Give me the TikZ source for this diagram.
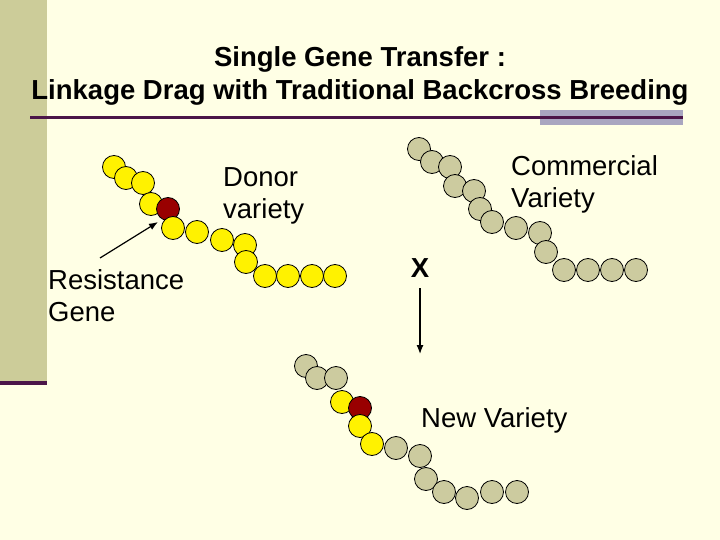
\documentclass[tikz,border=0pt]{standalone}
\usepackage{fontspec}
\usetikzlibrary{arrows.meta}
\setmainfont{Liberation Sans}
\begin{document}
\begin{tikzpicture}[x=1pt,y=-1pt,
  bead/.style={circle,draw=black,line width=0.8pt,minimum size=23pt,inner sep=0pt},
  yb/.style={bead,fill=yellow},
  gb/.style={bead,fill=beadgrey},
  rb/.style={bead,fill=beadred},
  lbl/.style={font=\fontsize{27.5}{32}\selectfont,align=left,anchor=west,inner sep=0pt},
  ttl/.style={font=\bfseries\fontsize{27.5}{33}\selectfont,align=center,inner sep=0pt}]
\definecolor{bg}{HTML}{FFFFE5}
\definecolor{bar}{HTML}{CCCC99}
\definecolor{rule}{HTML}{4B1548}
\definecolor{boxg}{HTML}{A9A6C0}
\definecolor{beadgrey}{HTML}{CCCB9F}
\definecolor{beadred}{HTML}{990000}
\fill[bg] (0,0) rectangle (720,540);
\useasboundingbox (0,0) rectangle (720,540);
\fill[bar] (0,0) rectangle (47,383);
\fill[rule] (0,381) rectangle (47,385);
\fill[boxg] (540,110) rectangle (683,125);
\fill[rule] (30,116) rectangle (683,119);
\node[ttl] (t) at (360,76) {Single Gene Transfer :\\Linkage Drag with Traditional Backcross Breeding};
% donor
\foreach \x/\y [count=\i] in {114/167,126/178,143/183,151/204}{\node[yb] (d\i) at (\x,\y) {};}
\node[rb] (dr) at (168,209) {};
\foreach \x/\y [count=\i from 5] in {173/228,197/232,222/240,245/245,246/262,265/276,288/276,312/276,335/276}{\node[yb] (d\i) at (\x,\y) {};}
% commercial
\foreach \x/\y [count=\i] in {419/149,432/162,450/167,455/186,474/191,480/209,492/222,516/228,540/233,546/252,564/270,588/270,612/270,636/270}{\node[gb] (c\i) at (\x,\y) {};}
% new
\foreach \x/\y [count=\i] in {306/366,317/378,336/378}{\node[gb] (n\i) at (\x,\y) {};}
\node[yb] (ny1) at (342,402) {};
\node[rb] (nr) at (360,408) {};
\node[yb] (ny2) at (360,426) {};
\node[yb] (ny3) at (372,444) {};
\foreach \x/\y [count=\i from 4] in {396/448,420/456,426/479,444/492,467/498,492/492,517/492}{\node[gb] (n\i) at (\x,\y) {};}
% labels
\node[lbl] (dl) at (223,196) {Donor\\variety};
\node[lbl] (cl) at (511,184) {Commercial\\Variety};
\node[lbl] (rl) at (48,296) {Resistance\\Gene};
\node[font=\bfseries\fontsize{27.5}{30}\selectfont,inner sep=0pt] (xx) at (420,268) {X};
\node[lbl] (nl) at (421,420) {New Variety};
\coordinate (a1) at (100,258);
\coordinate (a2) at (158,222);
\draw[-{Latex[length=9pt,width=7pt]},line width=1.2pt] (a1) -- (a2);
\coordinate (b1) at (420,288);
\coordinate (b2) at (420,354);
\draw[-{Latex[length=9pt,width=7pt]},line width=1.2pt] (b1) -- (b2);
\end{tikzpicture}
\end{document}
